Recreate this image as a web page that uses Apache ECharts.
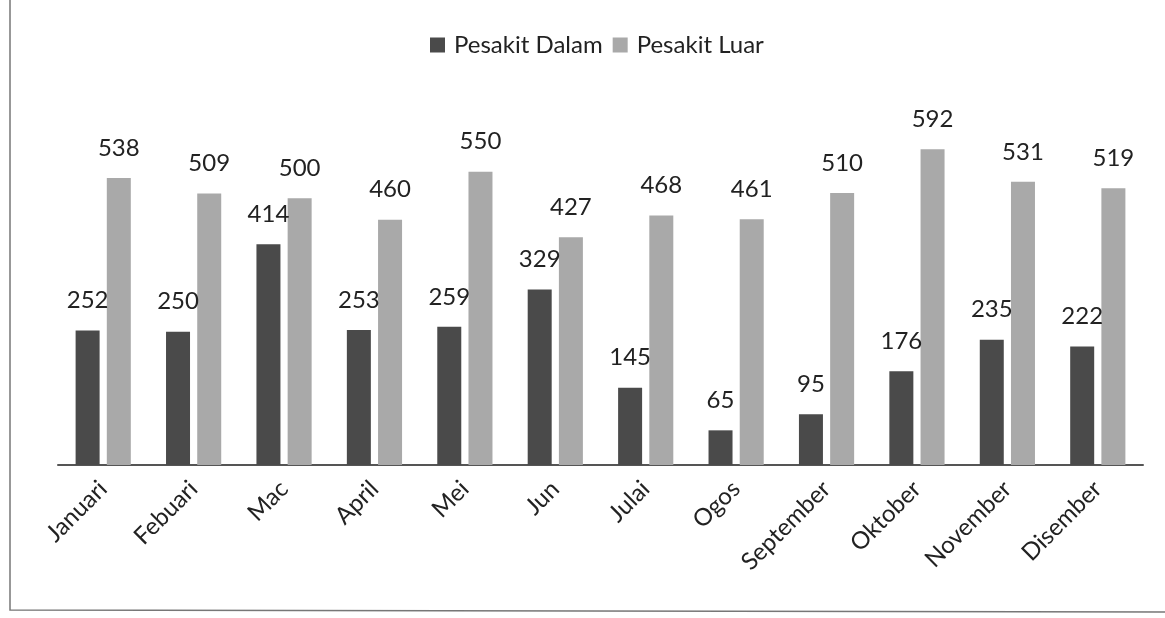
<!DOCTYPE html>
<html>
<head>
<meta charset="utf-8">
<script src="https://cdn.jsdelivr.net/npm/echarts@6/dist/echarts.min.js"></script>
<style>
  html, body { margin: 0; padding: 0; background: #fff; }
  #chart { width: 1165px; height: 618px; }
</style>
</head>
<body>
<div id="chart"></div>
<script>
// bulan
const months = ['Januari', 'Febuari', 'Mac', 'April', 'Mei', 'Jun', 'Julai', 'Ogos', 'September', 'Oktober', 'November', 'Disember'];
const pesakit_dalam = [252, 250, 414, 253, 259, 329, 145, 65, 95, 176, 235, 222];
const pesakit_luar = [538, 509, 500, 460, 550, 427, 468, 461, 510, 592, 531, 519];

const font = 'Lato, "Open Sans", sans-serif';

const chart = echarts.init(document.getElementById('chart'));

const labelStyle = {
  show: true,
  position: 'top',
  distance: 18,
  fontFamily: font,
  fontSize: 24,
  color: '#222'
};

chart.setOption({
  backgroundColor: '#fff',
  animation: false,
  legend: {
    top: 28,
    left: 425,
    itemWidth: 15,
    itemHeight: 15,
    itemGap: 10,
    icon: 'rect',
    textStyle: { fontFamily: font, fontSize: 24, color: '#222', padding: [0, 0, 0, 4] },
    data: ['Pesakit Dalam', 'Pesakit Luar']
  },
  grid: { left: 58, right: 22, top: 145, bottom: 153 },
  xAxis: {
    type: 'category',
    data: months,
    axisLine: { lineStyle: { color: '#555', width: 2 } },
    axisTick: { show: false },
    axisLabel: {
      rotate: 45,
      margin: 20,
      fontFamily: font,
      fontSize: 24,
      color: '#222'
    }
  },
  yAxis: {
    type: 'value',
    min: 0,
    max: 600,
    show: false
  },
  series: [
    {
      name: 'Pesakit Dalam',
      type: 'bar',
      data: pesakit_dalam,
      barWidth: 24,
      barGap: '30%',
      itemStyle: { color: '#4a4a4a' },
      label: labelStyle
    },
    {
      name: 'Pesakit Luar',
      type: 'bar',
      data: pesakit_luar,
      barWidth: 24,
      itemStyle: { color: '#a9a9a9' },
      label: labelStyle
    }
  ],
  graphic: [
    {
      type: 'polyline',
      shape: { points: [[10, 0], [10, 610], [1165, 612]] },
      style: { stroke: '#777', lineWidth: 1.5, fill: null }
    }
  ]
});
</script>
</body>
</html>
